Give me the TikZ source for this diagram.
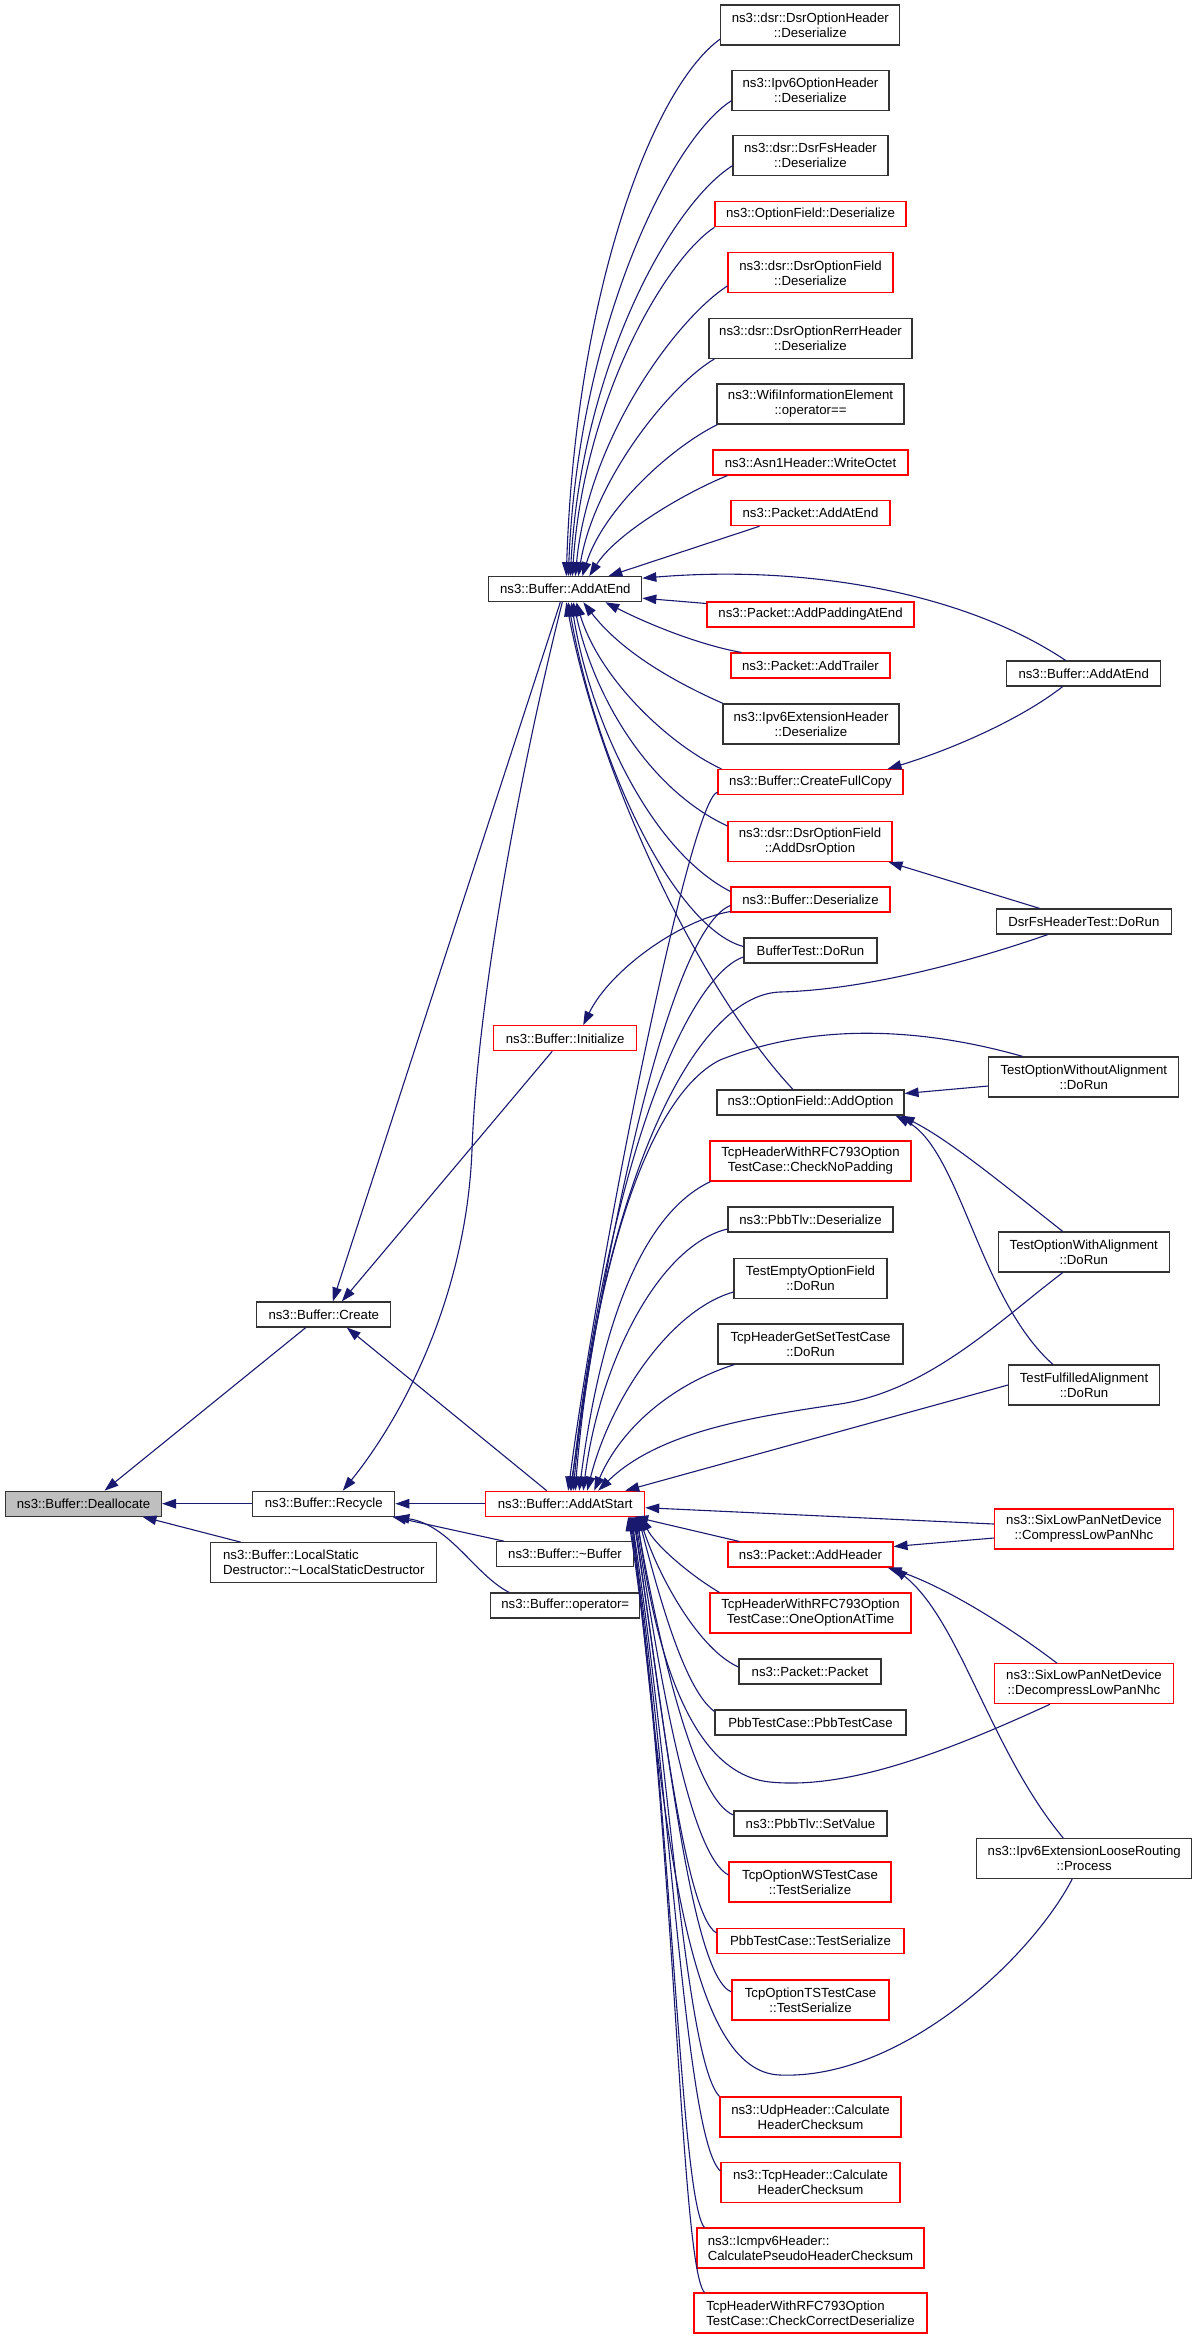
\documentclass[tikz,border=0pt]{standalone}
\usepackage{fontspec}
\setmainfont{Liberation Sans}
\usetikzlibrary{arrows.meta}
\definecolor{callblue}{HTML}{191970}
\definecolor{boxred}{HTML}{FF0000}
\definecolor{boxgray}{HTML}{BFBFBF}

\begin{document}
\begin{tikzpicture}[x=1pt,y=-1pt,
	fn/.style={draw=black!80,line width=1.1pt,rectangle,fill=white,inner sep=0pt,align=center,minimum height=25pt,font=\fontsize{13.2}{15}\selectfont},
	two/.style={minimum height=40pt},
	redfn/.style={fn,draw=boxred},
	call/.style={draw=callblue,line width=1.1pt,-{Triangle[length=14pt,width=9.5pt]}}]
			\useasboundingbox (0,0) rectangle (1197,2339);

			\node[fn,minimum width=156pt,fill=boxgray] (dealloc) at (83.5,1503.7) {ns3::Buffer::Deallocate};
			\node[fn,minimum width=134pt] (create) at (323.8,1314.5) {ns3::Buffer::Create};
			\node[fn,minimum width=142pt] (recycle) at (323.8,1503.7) {ns3::Buffer::Recycle};
			\node[fn,two,minimum width=226pt,align=left] (destr) at (323.8,1562.7) {ns3::Buffer::LocalStatic\\Destructor::\textasciitilde LocalStaticDestructor};
			\node[fn,minimum width=153pt] (addend) at (565.3,589.2) {ns3::Buffer::AddAtEnd};
			\node[redfn,minimum width=143pt] (init) at (565.2,1038.3) {ns3::Buffer::Initialize};
			\node[redfn,minimum width=159pt] (addstart) at (565.2,1503.7) {ns3::Buffer::AddAtStart};
			\node[fn,minimum width=137pt] (dtor) at (565,1554.2) {ns3::Buffer::\textasciitilde Buffer};
			\node[fn,minimum width=149pt] (opassign) at (565.3,1605.5) {ns3::Buffer::operator=};

			\node[fn,two,minimum width=179pt] (dsrhdr) at (810.3,25) {ns3::dsr::DsrOptionHeader\\::Deserialize};
			\node[fn,two,minimum width=157pt] (ip6opt) at (810.5,90.7) {ns3::Ipv6OptionHeader\\::Deserialize};
			\node[fn,two,minimum width=155pt] (dsrfs) at (810.5,155.7) {ns3::dsr::DsrFsHeader\\::Deserialize};
			\node[redfn,minimum width=191pt] (optdes) at (810.5,214.3) {ns3::OptionField::Deserialize};
			\node[redfn,two,minimum width=165pt] (dsrfield) at (810.5,272.9) {ns3::dsr::DsrOptionField\\::Deserialize};
			\node[fn,two,minimum width=203pt] (rerr) at (810.5,338.4) {ns3::dsr::DsrOptionRerrHeader\\::Deserialize};
			\node[fn,two,minimum width=187pt] (wifi) at (810.5,404) {ns3::WifiInformationElement\\::operator==};
			\node[redfn,minimum width=195pt] (asn1) at (810.5,462.5) {ns3::Asn1Header::WriteOctet};
			\node[redfn,minimum width=159pt] (pktend) at (810.5,513.2) {ns3::Packet::AddAtEnd};
			\node[redfn,minimum width=207pt] (padding) at (810.5,614.5) {ns3::Packet::AddPaddingAtEnd};
			\node[redfn,minimum width=159pt] (trailer) at (810.5,665.5) {ns3::Packet::AddTrailer};
			\node[fn,two,minimum width=176pt] (ip6ext) at (811,724) {ns3::Ipv6ExtensionHeader\\::Deserialize};
			\node[redfn,minimum width=185pt] (fullcopy) at (810.5,782) {ns3::Buffer::CreateFullCopy};
			\node[redfn,two,minimum width=164pt] (adddsr) at (810,841.5) {ns3::dsr::DsrOptionField\\::AddDsrOption};
			\node[redfn,minimum width=159pt] (bufdes) at (810.5,899.5) {ns3::Buffer::Deserialize};
			\node[fn,minimum width=133pt] (buftest) at (810.5,950.5) {BufferTest::DoRun};
			\node[fn,minimum width=187pt] (addopt) at (810.5,1102.5) {ns3::OptionField::AddOption};
			\node[redfn,two,minimum width=201pt] (nopad) at (810.5,1161) {TcpHeaderWithRFC793Option\\TestCase::CheckNoPadding};
			\node[fn,minimum width=165pt] (pbbdes) at (810.5,1219.5) {ns3::PbbTlv::Deserialize};
			\node[fn,two,minimum width=153pt] (emptyopt) at (810.5,1278.5) {TestEmptyOptionField\\::DoRun};
			\node[fn,two,minimum width=185pt] (getset) at (810.5,1344) {TcpHeaderGetSetTestCase\\::DoRun};
			\node[redfn,minimum width=165pt] (addhdr) at (810.5,1554.5) {ns3::Packet::AddHeader};
			\node[redfn,two,minimum width=201pt] (oneopt) at (810.5,1613) {TcpHeaderWithRFC793Option\\TestCase::OneOptionAtTime};
			\node[fn,minimum width=142pt] (pktpkt) at (810,1671.5) {ns3::Packet::Packet};
			\node[fn,minimum width=191pt] (pbbcase) at (810.5,1722.5) {PbbTestCase::PbbTestCase};
			\node[fn,minimum width=153pt] (setval) at (810.5,1823.5) {ns3::PbbTlv::SetValue};
			\node[redfn,two,minimum width=162pt] (wsser) at (810,1882) {TcpOptionWSTestCase\\::TestSerialize};
			\node[redfn,minimum width=187pt] (pbbser) at (810.5,1941) {PbbTestCase::TestSerialize};
			\node[redfn,two,minimum width=157pt] (tsser) at (810.5,2000) {TcpOptionTSTestCase\\::TestSerialize};
			\node[redfn,two,minimum width=181pt] (udpsum) at (810.5,2117) {ns3::UdpHeader::Calculate\\HeaderChecksum};
			\node[redfn,two,minimum width=179pt] (tcpsum) at (810.5,2182.5) {ns3::TcpHeader::Calculate\\HeaderChecksum};
			\node[redfn,two,minimum width=227pt,align=left] (icmpsum) at (810.5,2248) {ns3::Icmpv6Header::\\CalculatePseudoHeaderChecksum};
			\node[redfn,two,minimum width=233pt,align=left] (checkdes) at (810.5,2313) {TcpHeaderWithRFC793Option\\TestCase::CheckCorrectDeserialize};

			\node[fn,minimum width=154pt] (bufend2) at (1083.7,673.5) {ns3::Buffer::AddAtEnd};
			\node[fn,minimum width=175pt] (dsrfstest) at (1083.8,921.5) {DsrFsHeaderTest::DoRun};
			\node[fn,two,minimum width=190pt] (woalign) at (1083.8,1077) {TestOptionWithoutAlignment\\::DoRun};
			\node[fn,two,minimum width=171pt] (walign) at (1083.8,1252) {TestOptionWithAlignment\\::DoRun};
			\node[fn,two,minimum width=151pt] (fulfilled) at (1084,1385) {TestFulfilledAlignment\\::DoRun};
			\node[redfn,two,minimum width=179pt] (compress) at (1084,1529) {ns3::SixLowPanNetDevice\\::CompressLowPanNhc};
			\node[redfn,two,minimum width=179pt] (decompress) at (1084,1683.7) {ns3::SixLowPanNetDevice\\::DecompressLowPanNhc};
			\node[fn,two,minimum width=215pt] (looserout) at (1084.2,1858.5) {ns3::Ipv6ExtensionLooseRouting\\::Process};

			\draw[call] ([xshift=-18pt]create.south) -- ([xshift=21pt]dealloc.north);
			\draw[call] (recycle.west) -- (dealloc.east);
			\draw[call] ([xshift=-83pt]destr.north) -- ([xshift=59pt]dealloc.south);

			\draw[call] (addstart.west) -- (recycle.east);
			\draw[call] ([xshift=8pt]dtor.north west) -- ([xshift=-3pt]recycle.south east);
			\draw[call] ([xshift=19pt]opassign.north west) .. controls (475,1575) and (450,1525) .. (recycle.south east);
			\draw[call] ([xshift=-3pt]addend.south) .. controls (530,730) and (478,980) .. (472,1150) .. controls (466,1300) and (400,1420) .. ([xshift=19pt]recycle.north);

			\draw[call] ([xshift=-5pt]addend.south) -- ([xshift=9pt]create.north);
			\draw[call] ([xshift=-13pt]init.south) -- ([xshift=18pt]create.north);
			\draw[call] ([xshift=-18.5pt]addstart.north) -- ([xshift=23pt]create.south);

			\draw[call] ([yshift=-12pt]bufdes.west) .. controls (680,920) and (610,970) .. ([xshift=18pt]init.north);

			\draw[call] ([yshift=-14pt]dsrhdr.west) .. controls (650,90) and (575,300) .. ([xshift=1pt]addend.north);
			\draw[call] ([yshift=-10pt]ip6opt.west) .. controls (670,140) and (578,330) .. ([xshift=3pt]addend.north);
			\draw[call] ([yshift=-10pt]dsrfs.west) .. controls (670,205) and (581,370) .. ([xshift=5pt]addend.north);
			\draw[call] (optdes.south west) .. controls (665,260) and (584,400) .. ([xshift=7pt]addend.north);
			\draw[call] ([yshift=-13pt]dsrfield.west) .. controls (675,320) and (588,440) .. ([xshift=10pt]addend.north);
			\draw[call] ([xshift=6pt]rerr.south west) .. controls (670,385) and (594,480) .. ([xshift=13pt]addend.north);
			\draw[call] ([xshift=1pt]wifi.south west) .. controls (670,448) and (603,510) .. ([xshift=17pt]addend.north);
			\draw[call] ([xshift=15pt]asn1.south west) .. controls (680,495) and (615,535) .. ([xshift=24pt]addend.north);
			\draw[call] ([xshift=29pt]pktend.south west) -- ([xshift=43pt]addend.north);
			\draw[call] ([xshift=-18pt]bufend2.north) .. controls (960,590) and (800,565) .. ([yshift=11pt]addend.east);
			\draw[call] ([yshift=11pt]padding.west) -- ([yshift=-9pt]addend.east);
			\draw[call] ([xshift=-69pt]trailer.north) .. controls (700,645) and (650,625) .. ([xshift=40pt]addend.south);
			\draw[call] ([xshift=-88pt]ip6ext.north) .. controls (670,680) and (620,650) .. ([xshift=18pt]addend.south);
			\draw[call] ([xshift=4pt]fullcopy.north west) .. controls (670,745) and (600,680) .. ([xshift=11pt]addend.south);
			\draw[call] ([yshift=15.5pt]adddsr.west) .. controls (650,790) and (595,700) .. ([xshift=8pt]addend.south);
			\draw[call] ([yshift=8pt]bufdes.west) .. controls (650,850) and (590,720) .. ([xshift=6pt]addend.south);
			\draw[call] ([yshift=4pt]buftest.west) .. controls (680,930) and (600,780) .. ([xshift=3pt]addend.south);
			\draw[call] ([xshift=-17.5pt]addopt.north) .. controls (700,990) and (600,780) .. ([xshift=1pt]addend.south);

			\draw[call] ([xshift=-21pt]bufend2.south) .. controls (1020,720) and (950,750) .. ([xshift=-16pt]fullcopy.north east);
			\draw[call] ([xshift=-44pt]dsrfstest.north) -- ([xshift=-4pt]adddsr.south east);
			\draw[call] ([yshift=-9pt]woalign.west) -- ([yshift=9pt]addopt.east);
			\draw[call] ([xshift=-21pt]walign.north) .. controls (1010,1190) and (950,1140) .. ([xshift=-4pt]addopt.south east);
			\draw[call] ([xshift=-31pt]fulfilled.north) .. controls (980,1300) and (960,1150) .. ([xshift=-9pt]addopt.south east);
			\draw[call] ([yshift=-9pt]compress.west) -- ([yshift=8pt]addhdr.east);
			\draw[call] ([xshift=-27pt]decompress.north) .. controls (1000,1620) and (940,1585) .. ([xshift=-6pt]addhdr.south east);
			\draw[call] ([xshift=-21pt]looserout.north) .. controls (990,1750) and (960,1620) .. (addhdr.south east);

			\draw[call] ([yshift=-10pt]fullcopy.west) .. controls (690,800) and (600,1250) .. ([xshift=3pt]addstart.north);
			\draw[call] ([yshift=-6pt]bufdes.west) .. controls (680,925) and (620,1150) .. ([xshift=5pt]addstart.north);
			\draw[call] ([yshift=-6.5pt]buftest.west) .. controls (690,975) and (610,1150) .. ([xshift=6pt]addstart.north);
			\draw[call] ([xshift=-36pt]dsrfstest.south) .. controls (960,965) and (860,990) .. (780,992) .. controls (690,995) and (600,1200) .. ([xshift=8pt]addstart.north);
			\draw[call] ([xshift=-61pt]woalign.north) .. controls (930,1030) and (820,1020) .. (720,1060) .. controls (640,1100) and (590,1300) .. ([xshift=10pt]addstart.north);
			\draw[call] ([xshift=1pt]nopad.south west) .. controls (640,1215) and (600,1330) .. ([xshift=14pt]addstart.north);
			\draw[call] ([yshift=-9.5pt]pbbdes.west) .. controls (660,1245) and (600,1360) .. ([xshift=18pt]addstart.north);
			\draw[call] ([yshift=-13.5pt]emptyopt.west) .. controls (670,1310) and (610,1400) .. ([xshift=22pt]addstart.north);
			\draw[call] ([xshift=17pt]getset.south west) .. controls (670,1385) and (620,1430) .. ([xshift=29pt]addstart.north);
			\draw[call] ([xshift=-21pt]walign.south) .. controls (1000,1320) and (930,1390) .. (840,1404) .. controls (760,1416) and (660,1430) .. ([xshift=33pt]addstart.north);
			\draw[call] (fulfilled.west) -- ([xshift=60pt]addstart.north);
			\draw[call] ([yshift=5pt]compress.west) -- ([yshift=-4pt]addstart.east);
			\draw[call] ([xshift=12pt]addhdr.north west) -- ([xshift=69pt]addstart.south);

			\draw[call] ([xshift=10pt]oneopt.north west) .. controls (690,1575) and (655,1545) .. ([xshift=76pt]addstart.south);
			\draw[call] ([yshift=4.5pt]pktpkt.west) .. controls (700,1650) and (660,1580) .. ([xshift=74pt]addstart.south);
			\draw[call] ([yshift=-2pt]pbbcase.north west) .. controls (685,1690) and (660,1600) .. ([xshift=73pt]addstart.south);
			\draw[call] ([xshift=-34pt]decompress.south) .. controls (950,1750) and (850,1790) .. (770,1782) .. controls (690,1774) and (655,1650) .. ([xshift=72pt]addstart.south);
			\draw[call] ([yshift=8.5pt]setval.west) .. controls (695,1800) and (660,1650) .. ([xshift=71pt]addstart.south);
			\draw[call] ([yshift=7pt]wsser.west) .. controls (690,1855) and (660,1680) .. ([xshift=70pt]addstart.south);
			\draw[call] ([yshift=-5pt]pbbser.north west) .. controls (685,1915) and (660,1700) .. ([xshift=69pt]addstart.south);
			\draw[call] ([yshift=8pt]tsser.west) .. controls (690,1975) and (665,1720) .. ([xshift=68pt]addstart.south);
			\draw[call] ([xshift=-12pt]looserout.south) .. controls (1030,1960) and (900,2080) .. (780,2075) .. controls (690,2072) and (665,1850) .. ([xshift=67pt]addstart.south);
			\draw[call] (udpsum.north west) .. controls (685,2060) and (668,1750) .. ([xshift=66pt]addstart.south);
			\draw[call] ([yshift=11.5pt]tcpsum.west) .. controls (685,2140) and (670,1780) .. ([xshift=65pt]addstart.south);
			\draw[call] ([xshift=8pt]icmpsum.north west) .. controls (680,2200) and (672,1800) .. ([xshift=64pt]addstart.south);
			\draw[call] ([xshift=11pt]checkdes.north west) .. controls (680,2265) and (675,1820) .. ([xshift=63pt]addstart.south);
		\end{tikzpicture}
\end{document}
